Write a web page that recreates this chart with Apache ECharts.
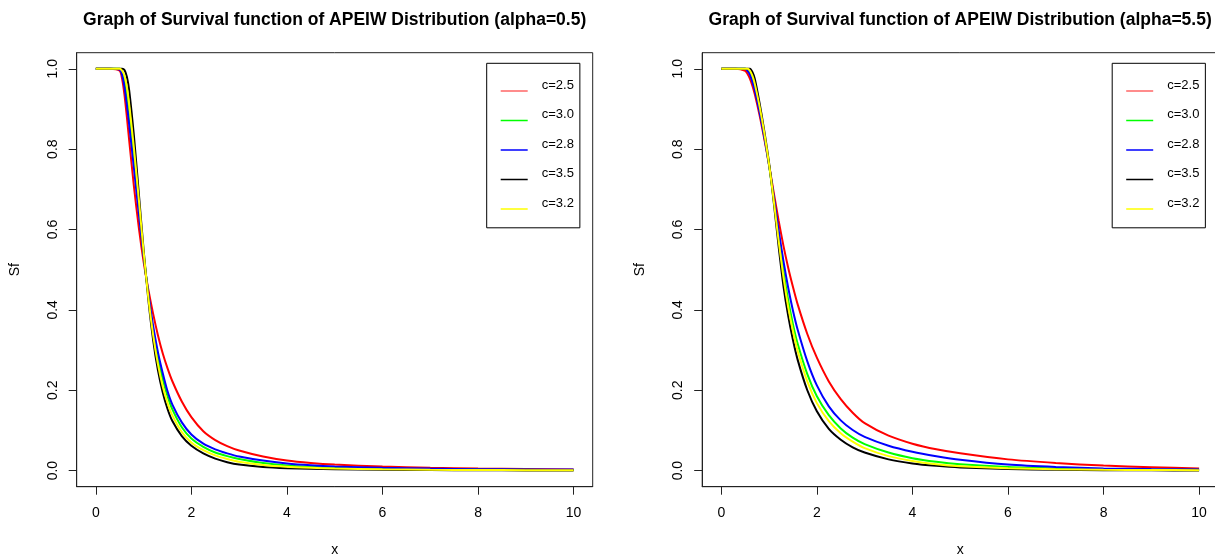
<!DOCTYPE html>
<html>
<head>
<meta charset="utf-8">
<script src="https://cdn.jsdelivr.net/npm/echarts@6/dist/echarts.min.js"></script>
<style>
html,body{margin:0;padding:0;background:#fff;}
#chart{width:1215px;height:557px;}
</style>
</head>
<body>
<div id="chart"></div>
<script>
// ---- data ----
const titles = [
  'Graph of Survival function of APEIW Distribution (alpha=0.5)',
  'Graph of Survival function of APEIW Distribution (alpha=5.5)'
];
const seriesNames = ['c=2.5', 'c=3.0', 'c=2.8', 'c=3.5', 'c=3.2'];
const seriesColors = ['#ff0000', '#00ff00', '#0000ff', '#000000', '#ffff00'];
const xTicks = [0, 2, 4, 6, 8, 10];
const yTicks = [0, 0.2, 0.4, 0.6, 0.8, 1.0];

// shared x grid
const xs = [0, 0.3, 0.5, 0.55, 0.6, 0.65, 0.7, 0.8, 0.9, 1.0, 1.1, 1.2, 1.3, 1.4, 1.5, 1.6, 1.8, 2.0, 2.25, 2.5, 2.75, 3, 3.5, 4, 4.5, 5, 6, 7, 8, 9, 10];

// left panel (alpha = 0.5)
const leftC25 = [1, 1, 0.995, 0.975, 0.935, 0.88, 0.82, 0.705, 0.605, 0.52, 0.45, 0.39, 0.337, 0.292, 0.255, 0.223, 0.172, 0.133, 0.098, 0.076, 0.061, 0.05, 0.035, 0.025, 0.019, 0.015, 0.01, 0.007, 0.005, 0.004, 0.003];
const leftC30 = [1, 1, 1, 0.99, 0.97, 0.93, 0.88, 0.77, 0.655, 0.54, 0.435, 0.348, 0.28, 0.228, 0.186, 0.153, 0.108, 0.08, 0.059, 0.045, 0.036, 0.029, 0.019, 0.013, 0.0095, 0.0073, 0.0048, 0.0033, 0.0025, 0.002, 0.0015];
const leftC28 = [1, 1, 0.998, 0.985, 0.955, 0.91, 0.86, 0.75, 0.64, 0.535, 0.44, 0.36, 0.295, 0.243, 0.198, 0.165, 0.12, 0.09, 0.067, 0.053, 0.043, 0.035, 0.025, 0.018, 0.0135, 0.0105, 0.007, 0.005, 0.0035, 0.003, 0.0025];
const leftC35 = [1, 1, 1, 1, 0.997, 0.98, 0.945, 0.83, 0.69, 0.55, 0.425, 0.325, 0.25, 0.195, 0.154, 0.124, 0.086, 0.062, 0.043, 0.03, 0.021, 0.015, 0.009, 0.006, 0.0045, 0.0035, 0.002, 0.0013, 0.0009, 0.0006, 0.0004];
const leftC32 = [1, 1, 1, 0.995, 0.983, 0.955, 0.91, 0.8, 0.675, 0.545, 0.43, 0.337, 0.265, 0.21, 0.169, 0.138, 0.096, 0.07, 0.051, 0.038, 0.029, 0.022, 0.014, 0.0095, 0.007, 0.0052, 0.0032, 0.0021, 0.0015, 0.0012, 0.001];

// right panel (alpha = 5.5)
const rightC25 = [1, 1, 0.995, 0.987, 0.975, 0.958, 0.937, 0.885, 0.825, 0.76, 0.69, 0.622, 0.56, 0.505, 0.457, 0.413, 0.34, 0.281, 0.222, 0.178, 0.144, 0.118, 0.087, 0.067, 0.053, 0.043, 0.028, 0.019, 0.0125, 0.0085, 0.005];
const rightC30 = [1, 1, 1, 0.998, 0.99, 0.976, 0.955, 0.9, 0.835, 0.76, 0.673, 0.583, 0.497, 0.424, 0.364, 0.315, 0.24, 0.185, 0.138, 0.105, 0.082, 0.066, 0.045, 0.031, 0.022, 0.016, 0.009, 0.0055, 0.0035, 0.0025, 0.002];
const rightC28 = [1, 1, 1, 0.995, 0.985, 0.968, 0.947, 0.893, 0.83, 0.76, 0.68, 0.598, 0.522, 0.455, 0.398, 0.35, 0.272, 0.212, 0.16, 0.125, 0.101, 0.084, 0.062, 0.047, 0.036, 0.027, 0.015, 0.009, 0.0055, 0.004, 0.003];
const rightC35 = [1, 1, 1, 1, 1, 0.992, 0.975, 0.915, 0.845, 0.765, 0.665, 0.558, 0.46, 0.385, 0.325, 0.275, 0.2, 0.148, 0.104, 0.077, 0.058, 0.045, 0.028, 0.018, 0.012, 0.008, 0.004, 0.002, 0.001, 0.0007, 0.0005];
const rightC32 = [1, 1, 1, 1, 0.995, 0.983, 0.963, 0.907, 0.84, 0.762, 0.67, 0.572, 0.482, 0.407, 0.347, 0.297, 0.222, 0.168, 0.123, 0.093, 0.072, 0.056, 0.036, 0.024, 0.016, 0.011, 0.006, 0.0035, 0.002, 0.0015, 0.001];

const panelValues = [
  [leftC25, leftC30, leftC28, leftC35, leftC32],
  [rightC25, rightC30, rightC28, rightC35, rightC32]
];

// ---- layout ----
const FONT = 'Liberation Sans, Arial, sans-serif';
const boxes = [
  { left: 76.7, right: 592.7 },
  { left: 702.2, right: 1218.2 }
];
const boxTop = 52.7, boxBottom = 486.7;
// R-style 4% padding around the data range
const xPad = 0.4, yPad = 0.04;

const grids = [], xAxes = [], yAxes = [], series = [], titleArr = [], legends = [];
boxes.forEach((b, i) => {
  grids.push({
    left: b.left, top: boxTop, width: b.right - b.left, height: boxBottom - boxTop,
    outerBoundsMode: 'none', containLabel: false,
    show: true, borderColor: '#222', borderWidth: 1, backgroundColor: 'transparent'
  });
  xAxes.push({
    gridIndex: i, type: 'value', position: 'bottom',
    min: xTicks[0] - xPad, max: xTicks[xTicks.length - 1] + xPad,
    name: 'x', nameLocation: 'middle', nameGap: 56,
    nameTextStyle: { fontFamily: FONT, fontSize: 14, color: '#000' },
    axisLine: { show: true, onZero: false, lineStyle: { color: '#222', width: 1 } },
    axisTick: { show: true, length: 8, customValues: xTicks, lineStyle: { color: '#222', width: 1 } },
    axisLabel: { fontFamily: FONT, fontSize: 14, color: '#000', margin: 19, customValues: xTicks },
    splitLine: { show: false }
  });
  yAxes.push({
    gridIndex: i, type: 'value', position: 'left',
    min: yTicks[0] - yPad, max: yTicks[yTicks.length - 1] + yPad,
    name: 'Sf', nameLocation: 'middle', nameGap: 55,
    nameTextStyle: { fontFamily: FONT, fontSize: 14, color: '#000' },
    axisLine: { show: true, onZero: false, lineStyle: { color: '#222', width: 1 } },
    axisTick: { show: true, length: 8, customValues: yTicks, lineStyle: { color: '#222', width: 1 } },
    axisLabel: { fontFamily: FONT, fontSize: 14, color: '#000', margin: 17, rotate: 90,
      customValues: yTicks, formatter: v => Number(v).toFixed(1) },
    splitLine: { show: false }
  });
  seriesNames.forEach((nm, k) => {
    series.push({
      type: 'line', name: nm, xAxisIndex: i, yAxisIndex: i,
      data: xs.map((x, j) => [x, panelValues[i][k][j]]),
      showSymbol: false, symbol: 'none', smooth: 0.25, clip: false,
      color: seriesColors[k],
      lineStyle: { color: seriesColors[k], width: 2 },
      emphasis: { disabled: true }
    });
  });
  titleArr.push({
    text: titles[i], left: (b.left + b.right) / 2, top: 11, textAlign: 'center', padding: 0,
    textStyle: { fontFamily: FONT, fontSize: 17.5, fontWeight: 'bold', color: '#000' }
  });
  legends.push({
    orient: 'vertical', left: b.left + 410, top: 63.3,
    data: seriesNames.map((nm, k) => k === 0 ? { name: nm, itemStyle: { opacity: 0.6 } } : nm),
    icon: 'path://M0,0 L0.01,0 Z M0,12 L27,12 L27,13.5 L0,13.5 Z',
    itemWidth: 27, itemHeight: 13.5, itemGap: 16,
    itemStyle: { borderWidth: 0 },
    borderColor: '#000', borderWidth: 1, padding: [15, 6, 18, 14],
    selectedMode: false,
    textStyle: { fontFamily: FONT, fontSize: 13, color: '#000', lineHeight: 13.5, padding: [0, 0, 0, 9] }
  });
});

const chart = echarts.init(document.getElementById('chart'), null, { renderer: 'canvas' });
chart.setOption({
  animation: false,
  backgroundColor: '#fff',
  title: titleArr,
  legend: legends,
  grid: grids,
  xAxis: xAxes,
  yAxis: yAxes,
  series: series
});
</script>
</body>
</html>
